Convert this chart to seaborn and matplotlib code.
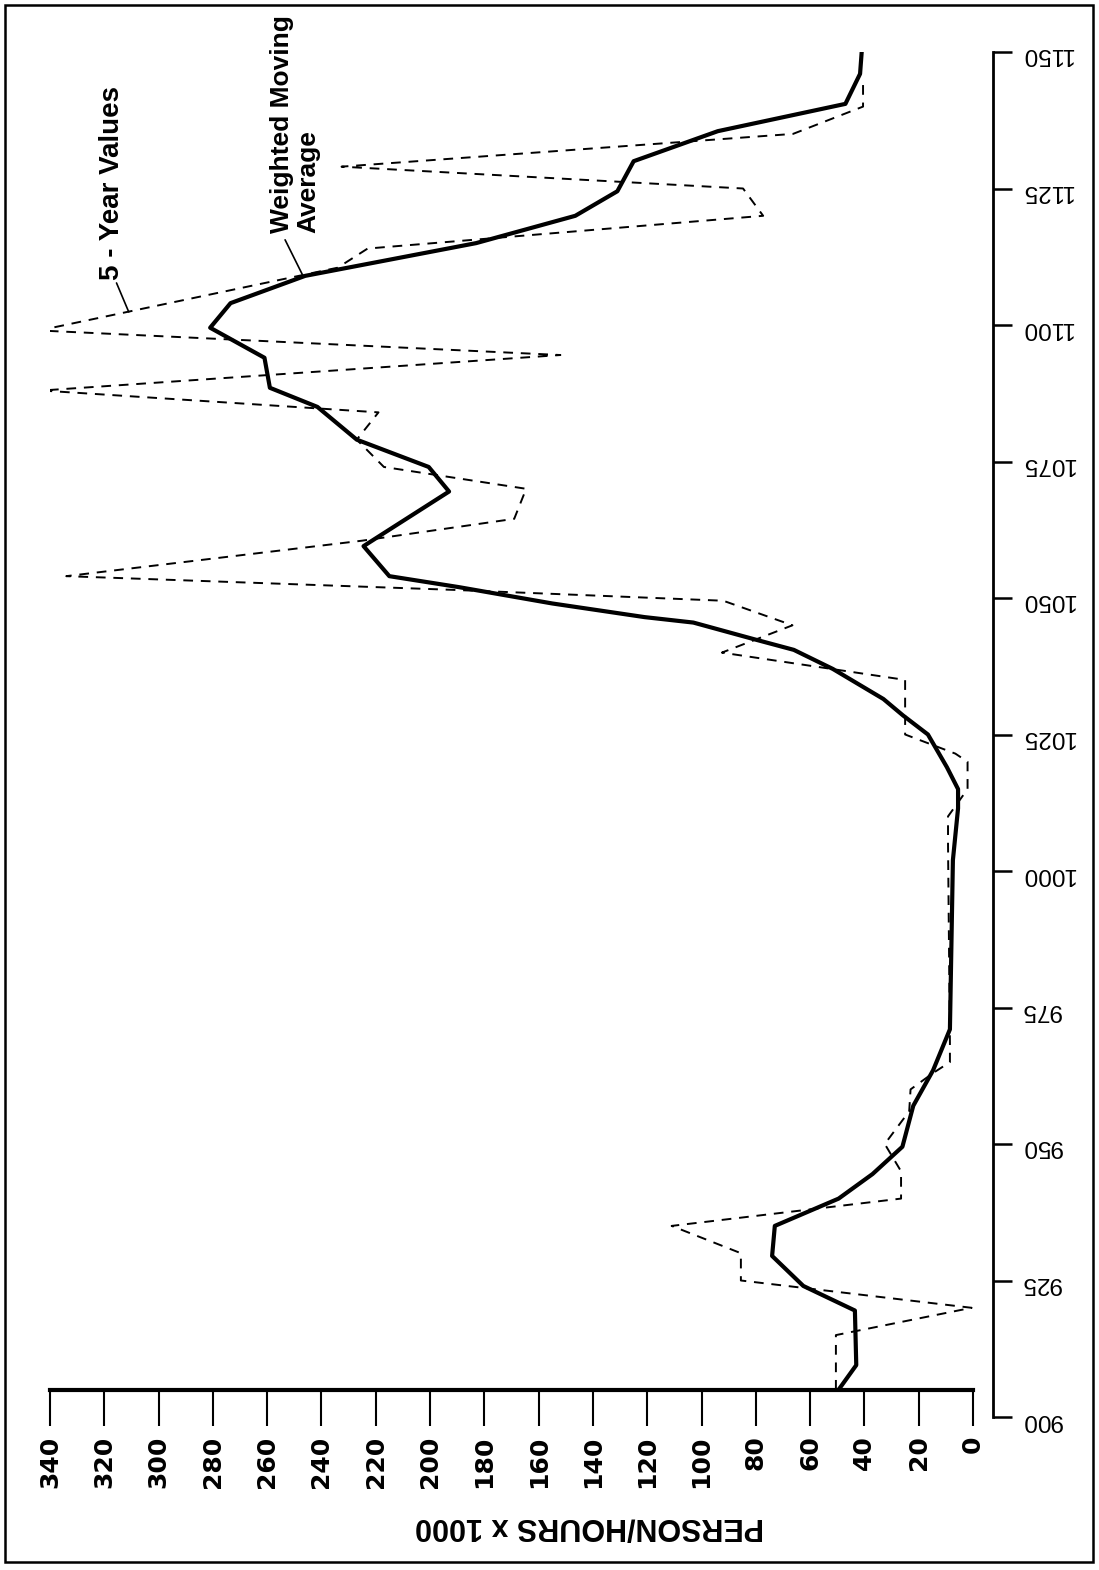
import matplotlib
matplotlib.use('Agg')
import matplotlib.pyplot as plt
import matplotlib.patches as mpatches
import seaborn as sns
import pandas as pd

# weighted moving average (thick line)
wma_years = [905, 909.5, 919.5, 924, 929.5, 935, 940, 944.5, 949.5, 957, 963.5, 971,
             1002, 1011.5, 1015, 1019, 1025, 1028.5, 1031.5, 1037, 1040.5, 1042.5,
             1045.5, 1046.5, 1049, 1052, 1054, 1059.5, 1069.5, 1074, 1079, 1085,
             1088.5, 1094, 1099.5, 1104, 1109, 1115, 1120, 1124.5, 1130, 1135.5,
             1140.5, 1146, 1150]
wma_vals = [49.5, 43, 43.5, 62.5, 74, 73, 49.5, 37, 26, 22, 14.7, 8.5,
            7.4, 5.5, 5.5, 9.6, 16.6, 25.8, 33, 51.6, 66, 81,
            103, 121, 155, 189.5, 215, 224.5, 193, 200.5, 227, 241.5,
            259, 261, 281, 273.5, 246, 183, 146.5, 131, 125, 94,
            47, 41.6, 41]

# 5-year values (dashed line)
fy_years = [905, 915, 920, 925, 930, 935, 940, 945, 950, 956, 960, 963, 965, 968.5,
            1005, 1010, 1015, 1020, 1021.5, 1025, 1035, 1040, 1045, 1049.5, 1051.5,
            1054, 1060.5, 1064.5, 1070, 1074, 1079, 1084, 1088, 1094.5, 1099,
            1110.5, 1114, 1120, 1125, 1129, 1135, 1140, 1145]
fy_vals = [50.5, 50.5, 0.5, 85.5, 85.5, 111, 26.5, 26.5, 32.5, 23.5, 23, 14.7, 8.5, 8.5,
           9.2, 9.2, 2, 2, 6.5, 25, 25, 92.5, 66.5, 92, 192,
           334, 225, 169, 164.6, 217, 227, 219, 343, 152, 344,
           234, 223, 77.3, 84.7, 232.6, 66.3, 40.5, 40.5]

year_ticks = list(range(900, 1151, 25))
value_ticks = list(range(0, 341, 20))

wma = pd.DataFrame({'year': wma_years, 'hours': wma_vals})
fy = pd.DataFrame({'year': fy_years, 'hours': fy_vals})

sns.set_theme(style='white')
plt.rcParams['font.family'] = ['Liberation Sans', 'DejaVu Sans']
plt.rcParams['text.color'] = 'black'

fig = plt.figure(figsize=(10.99, 15.70), dpi=100)
ax = fig.add_axes([50 / 1099, 153 / 1570, 943 / 1099, 1365 / 1570])
ax.patch.set_alpha(0)

# chart is drawn turned on its side: years run up, hours run left
sns.lineplot(data=fy, x='hours', y='year', orient='y', sort=False, estimator=None,
             color='black', lw=1.4, ax=ax, linestyle=(0, (5, 4)))
sns.lineplot(data=wma, x='hours', y='year', orient='y', sort=False, estimator=None,
             color='black', lw=3.0, ax=ax)

ax.set_xlim(340, -7.37)
ax.set_ylim(900, 1150)

for s in ['top', 'left']:
    ax.spines[s].set_visible(False)
ax.spines['bottom'].set_position(('data', 905))
ax.spines['bottom'].set_bounds(0, 340)
ax.spines['bottom'].set_linewidth(3)
ax.spines['right'].set_bounds(900, 1150)
ax.spines['right'].set_linewidth(2)
for s in ['bottom', 'right']:
    ax.spines[s].set_color('black')

ax.set_xticks(value_ticks)
ax.set_xticklabels([str(v) for v in value_ticks], fontsize=18, fontweight='bold',
                   family=['DejaVu Sans'])
ax.tick_params(axis='x', direction='out', length=26, width=1.5, labelrotation=90,
               pad=7, colors='black', bottom=True)

ax.yaxis.tick_right()
ax.set_yticks(year_ticks)
ax.set_yticklabels([str(y) for y in year_ticks], fontsize=17.5)
ax.tick_params(axis='y', direction='out', length=14, width=1.8, labelrotation=180,
               pad=6, colors='black', right=True, left=False)
ax.set_xlabel('')
ax.set_ylabel('')

fig.text(590 / 1099, 1 - 1527 / 1570, 'PERSON/HOURS x 1000', rotation=180,
         ha='center', va='center', fontsize=22, fontweight='bold', color='black')

# series labels with leader lines
ax.text(317, 1108.3, '5 - Year Values', rotation=90, ha='center', va='bottom',
        fontsize=20, fontweight='bold', color='black')
ax.annotate('', xy=(311, 1102.4), xytext=(315.5, 1107.7),
            arrowprops=dict(arrowstyle='-', lw=1.2, color='black', shrinkA=0, shrinkB=0))
ax.text(249.7, 1116.9, 'Weighted Moving\nAverage', rotation=90, ha='center', va='bottom',
        multialignment='left', fontsize=19, fontweight='bold', linespacing=1.1,
        color='black')
ax.annotate('', xy=(247, 1109.2), xytext=(253.4, 1115.6),
            arrowprops=dict(arrowstyle='-', lw=1.2, color='black', shrinkA=0, shrinkB=0))

# outer frame
fig.add_artist(mpatches.Rectangle((5 / 1099, 8 / 1570), 1088 / 1099, 1557 / 1570,
                                  fill=False, lw=1.8, ec='black',
                                  transform=fig.transFigure))

fig.savefig('out.png', dpi=100)
plt.close(fig)
